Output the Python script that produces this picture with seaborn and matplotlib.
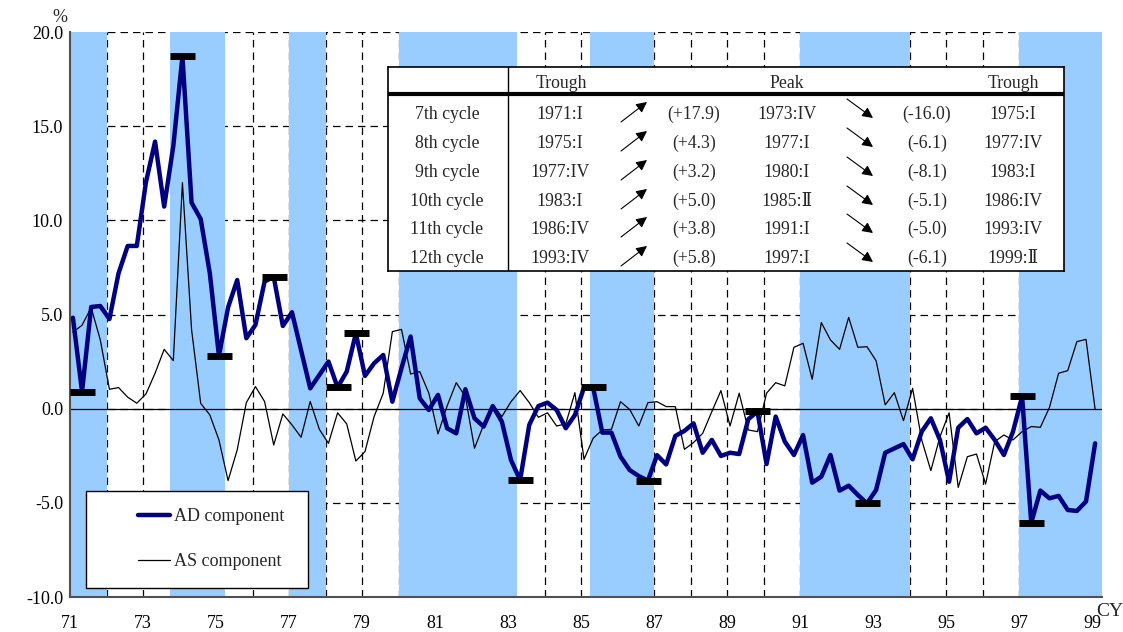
import numpy as np
import pandas as pd
import seaborn as sns
import matplotlib.pyplot as plt
from matplotlib.lines import Line2D
from matplotlib.patches import Rectangle

# quarterly data, 1971:I - 1999:I
quarters = pd.period_range('1971Q1', '1999Q1', freq='Q')

ad = [4.83, 0.9, 5.4, 5.45, 4.76, 7.19, 8.64, 8.64, 12.02, 14.18, 10.73, 13.95,
      18.7, 10.94, 10.07, 7.19, 2.8, 5.38, 6.83, 3.74, 4.45, 6.75, 7.0, 4.39,
      5.12, 3.1, 1.08, 1.79, 2.5, 1.13, 1.97, 4.0, 1.74, 2.41, 2.85, 0.37,
      2.15, 3.83, 0.55, -0.07, 0.73, -1.04, -1.31, 1.03, -0.51, -0.95, 0.14, -0.69,
      -2.73, -3.79, -0.86, 0.14, 0.32, -0.07, -1.04, -0.34, 1.13, 1.13, -1.27, -1.27,
      -2.55, -3.26, -3.58, -3.82, -2.47, -2.96, -1.45, -1.18, -0.78, -2.34, -1.66, -2.51,
      -2.34, -2.41, -0.56, -0.15, -2.94, -0.42, -1.75, -2.46, -1.4, -3.93, -3.61, -2.46,
      -4.35, -4.09, -4.58, -5.03, -4.32, -2.34, -2.11, -1.88, -2.69, -1.22, -0.51, -1.66,
      -3.88, -1.01, -0.55, -1.31, -1.01, -1.66, -2.46, -1.22, 0.65, -6.06, -4.35, -4.76,
      -4.63, -5.38, -5.43, -4.93, -1.84]

as_ = [4.06, 4.43, 5.37, 3.65, 1.03, 1.12, 0.61, 0.29, 0.78, 1.88, 3.15, 2.55,
       12.0, 4.2, 0.28, -0.33, -1.66, -3.82, -2.19, 0.32, 1.17, 0.38, -1.93, -0.28,
       -0.86, -1.52, 0.38, -1.1, -1.84, -0.22, -0.81, -2.78, -2.28, -0.42, 0.82, 4.09,
       4.21, 1.84, 1.97, 0.82, -1.34, 0.14, 1.38, 0.64, -2.1, -0.86, 0.2, -0.42,
       0.37, 0.96, 0.32, -0.46, -0.22, -0.92, -0.81, 0.85, -2.69, -1.57, -1.13, -1.1,
       0.37, -0.04, -0.92, 0.32, 0.37, 0.11, 0.11, -2.16, -1.8, -1.31, -0.16, 0.96,
       -0.92, 0.82, -1.13, -1.22, 0.82, 1.38, 1.21, 3.26, 3.47, 1.56, 4.57, 3.65,
       3.15, 4.85, 3.26, 3.29, 2.55, 0.2, 0.85, -0.64, 1.08, -1.66, -3.29, -1.49,
       -0.22, -4.18, -2.55, -2.41, -4.0, -1.75, -1.4, -1.66, -1.22, -0.95, -0.99, 0.07,
       1.88, 2.02, 3.56, 3.68, -0.04]

# turning points of the AD component
turns = ['1971Q2', '1974Q1', '1975Q1', '1976Q3', '1978Q2', '1978Q4', '1983Q2',
         '1985Q2', '1986Q4', '1989Q4', '1992Q4', '1997Q1', '1997Q2']

# recession phases (peak -> trough)
recessions = [('1971Q1', '1971Q4'), ('1973Q4', '1975Q1'), ('1977Q1', '1977Q4'),
              ('1980Q1', '1983Q1'), ('1985Q2', '1986Q4'), ('1991Q1', '1993Q4'),
              ('1997Q1', '1999Q2')]

cycles = ['7th cycle', '8th cycle', '9th cycle', '10th cycle', '11th cycle', '12th cycle']
trough_from = ['1971:I', '1975:I', '1977:IV', '1983:I', '1986:IV', '1993:IV']
rise = ['(+17.9)', '(+4.3)', '(+3.2)', '(+5.0)', '(+3.8)', '(+5.8)']
peaks = ['1973:IV', '1977:I', '1980:I', '1985:Ⅱ', '1991:I', '1997:I']
fall = ['(-16.0)', '(-6.1)', '(-8.1)', '(-5.1)', '(-5.0)', '(-6.1)']
trough_to = ['1975:I', '1977:IV', '1983:I', '1986:IV', '1993:IV', '1999:Ⅱ']


def qpos(p, off=0.0):
    p = pd.Period(p, freq='Q')
    return p.year - 1900 + (p.quarter - 1) / 4 + off


df = pd.DataFrame({'x': [qpos(q, 0.08) for q in quarters], 'AD': ad, 'AS': as_},
                  index=[str(q) for q in quarters])

sns.set_style('white')
plt.rcParams['font.family'] = ['Liberation Serif', 'DejaVu Serif']

W, H = 1123, 632
fig = plt.figure(figsize=(W / 100, H / 100), dpi=100)
ax = fig.add_axes([70 / W, 1 - 597 / H, (1101.7 - 70) / W, (597 - 32) / H])

for a, b in recessions:
    ax.axvspan(qpos(a), qpos(b) + 0.25, color='#99ccff', lw=0, zorder=1)

ax.axhline(0, color='black', lw=0.9, zorder=1.5)
sns.lineplot(data=df, x='x', y='AS', color='black', lw=0.9, ax=ax, zorder=3)
sns.lineplot(data=df, x='x', y='AD', color='#000080', lw=3.2, ax=ax, zorder=4)
ax.plot(df.loc[turns, 'x'], df.loc[turns, 'AD'], ls='none', marker='_', ms=18,
        mew=5, color='black', zorder=5)

ax.set_xlim(71, 99.26)
ax.set_ylim(-10, 20)
ax.set_xticks(range(71, 100))
ax.set_xticklabels([str(y) if y % 2 == 1 else '' for y in range(71, 100)])
ax.set_yticks(np.arange(-10, 21, 5))
ax.set_yticklabels(['%.1f' % v for v in np.arange(-10, 21, 5)])
ax.set_xlabel('')
ax.set_ylabel('')
ax.tick_params(axis='both', direction='in', length=5, width=1, color='#404040',
               labelsize=13, labelcolor='black')
ax.tick_params(axis='x', pad=13)
ax.tick_params(axis='y', pad=5)
ax.grid(True, color='black', lw=0.9, ls=(0, (6, 4)))
ax.set_axisbelow(True)
for s in ['top', 'right']:
    ax.spines[s].set_visible(False)
for s in ['left', 'bottom']:
    ax.spines[s].set_color('#505050')
    ax.spines[s].set_linewidth(1.5)

fig.text(60 / W, 1 - 18 / H, '%', fontsize=13, ha='center', va='center')
fig.text(1110 / W, 1 - 611 / H, 'CY', fontsize=14, ha='center', va='center')

# legend
fig.add_artist(Rectangle((86 / W, 1 - 588 / H), 222 / W, 97 / H, transform=fig.transFigure,
                         facecolor='white', edgecolor='black', lw=1))
handles = [Line2D([], [], color='#000080', lw=3.2), Line2D([], [], color='black', lw=0.9)]
fig.legend(handles, ['AD component', 'AS component'], loc='center left',
           bbox_to_anchor=(138 / W, 1 - 539 / H), frameon=False, fontsize=13,
           borderpad=0, borderaxespad=0, handlelength=1.78, handletextpad=0.2,
           labelspacing=1.55)

# table of cycle dates
x0, x1, y0, y1 = 388, 1064, 67, 271
tax = fig.add_axes([x0 / W, 1 - y1 / H, (x1 - x0) / W, (y1 - y0) / H], zorder=3)
tax.set_xlim(x0, x1)
tax.set_ylim(y1, y0)
tax.set_xticks([])
tax.set_yticks([])
tax.set_facecolor('white')
for s in tax.spines.values():
    s.set_color('black')
    s.set_linewidth(1.2)
tax.axhline(94, color='black', lw=3)
tax.axvline(508, color='black', lw=1)

fs = 12.8
for xc, t in [(561, 'Trough'), (787, 'Peak'), (1013, 'Trough')]:
    tax.text(xc, 83, t, fontsize=fs, ha='center', va='center')
rows = [114, 143, 172, 201, 229, 258]
for i, yc in enumerate(rows):
    tax.text(447, yc, cycles[i], fontsize=fs, ha='center', va='center')
    tax.text(560, yc, trough_from[i], fontsize=fs, ha='center', va='center')
    tax.text(694, yc, rise[i], fontsize=fs, ha='center', va='center')
    tax.text(787, yc, peaks[i], fontsize=fs, ha='center', va='center')
    tax.text(927, yc, fall[i], fontsize=fs, ha='center', va='center')
    tax.text(1013, yc, trough_to[i], fontsize=fs, ha='center', va='center')
    tax.annotate('', xy=(647, yc - 12), xytext=(621, yc + 8),
                 arrowprops=dict(arrowstyle='-|>', color='black', lw=0.8,
                                 mutation_scale=16, shrinkA=0, shrinkB=0))
    tax.annotate('', xy=(873, yc + 4), xytext=(847, yc - 15),
                 arrowprops=dict(arrowstyle='-|>', color='black', lw=0.8,
                                 mutation_scale=16, shrinkA=0, shrinkB=0))

fig.savefig('out.png', dpi=100)
